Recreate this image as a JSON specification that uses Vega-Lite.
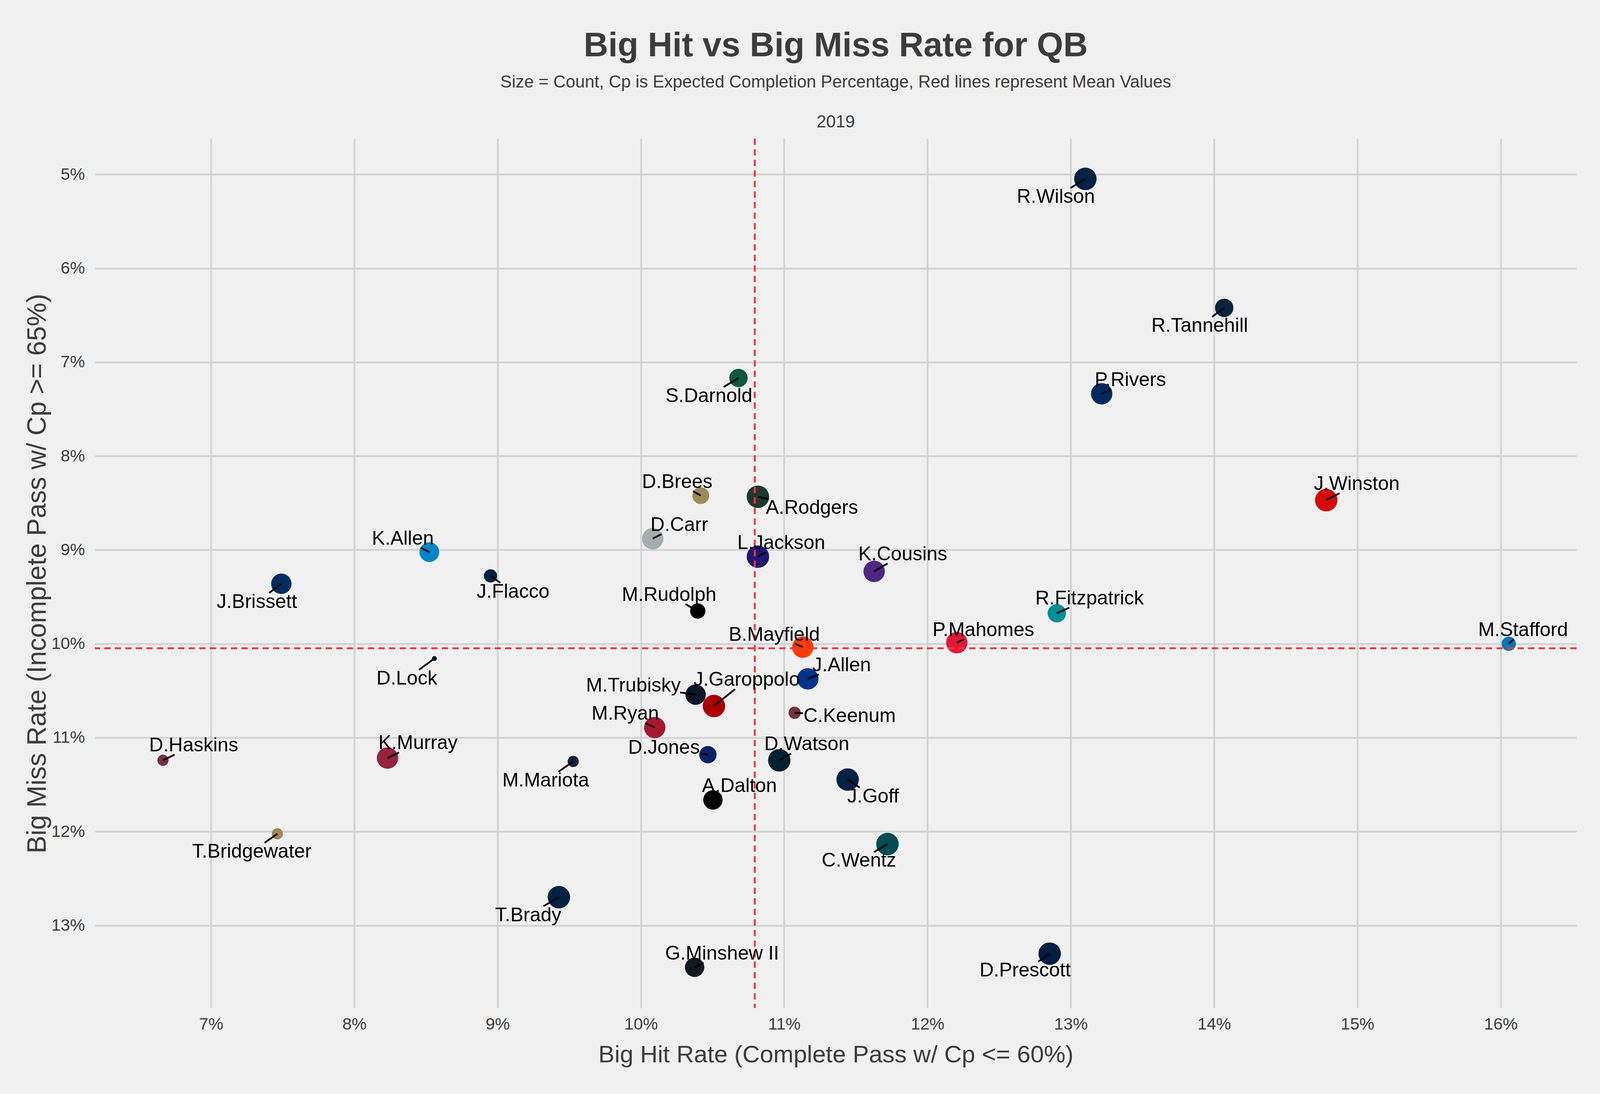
{
  "$schema": "https://vega.github.io/schema/vega-lite/v6.json",
  "width": 3793,
  "height": 2225,
  "autosize": "none",
  "padding": {"left": 243, "top": 355, "right": 60, "bottom": 220},
  "background": "#F0F0F0",
  "config": {
    "font": "Liberation Sans",
    "view": {"stroke": null}
  },
  "title": {
    "text": "Big Hit vs Big Miss Rate for QB",
    "subtitle": ["Size = Count, Cp is Expected Completion Percentage, Red lines represent Mean Values", "2019"],
    "anchor": "middle",
    "font": "Liberation Sans",
    "fontSize": 87,
    "fontWeight": "bold",
    "color": "#3C3C3C",
    "subtitleFont": "Liberation Sans",
    "subtitleFontSize": 44,
    "subtitleColor": "#3C3C3C",
    "subtitleLineHeight": 102,
    "subtitlePadding": 27,
    "offset": 17
  },
  "data": {
    "values": [
      {"player": "R.Wilson", "team": "SEA", "hit": 13.102, "miss": 5.048, "count": 121, "lx": 12.896, "ly": 5.241, "sx": 12.999, "sy": 5.145},
      {"player": "R.Tannehill", "team": "TEN", "hit": 14.071, "miss": 6.422, "count": 81, "lx": 13.900, "ly": 6.614, "sx": 13.986, "sy": 6.518},
      {"player": "P.Rivers", "team": "LAC", "hit": 13.216, "miss": 7.337, "count": 110, "lx": 13.416, "ly": 7.193, "sx": 13.282, "sy": 7.289},
      {"player": "J.Winston", "team": "TB", "hit": 14.783, "miss": 8.470, "count": 121, "lx": 14.996, "ly": 8.301, "sx": 14.875, "sy": 8.397},
      {"player": "S.Darnold", "team": "NYJ", "hit": 10.681, "miss": 7.169, "count": 81, "lx": 10.475, "ly": 7.361, "sx": 10.578, "sy": 7.265},
      {"player": "D.Brees", "team": "NO", "hit": 10.418, "miss": 8.422, "count": 68, "lx": 10.254, "ly": 8.277, "sx": 10.364, "sy": 8.374},
      {"player": "A.Rodgers", "team": "GB", "hit": 10.817, "miss": 8.434, "count": 121, "lx": 11.194, "ly": 8.554, "sx": 10.892, "sy": 8.458},
      {"player": "D.Carr", "team": "OAK", "hit": 10.083, "miss": 8.880, "count": 110, "lx": 10.268, "ly": 8.735, "sx": 10.144, "sy": 8.832},
      {"player": "L.Jackson", "team": "BAL", "hit": 10.817, "miss": 9.072, "count": 121, "lx": 10.980, "ly": 8.928, "sx": 10.871, "sy": 9.024},
      {"player": "K.Cousins", "team": "MIN", "hit": 11.628, "miss": 9.229, "count": 110, "lx": 11.828, "ly": 9.048, "sx": 11.722, "sy": 9.144},
      {"player": "K.Allen", "team": "CAR", "hit": 8.524, "miss": 9.024, "count": 94, "lx": 8.339, "ly": 8.880, "sx": 8.463, "sy": 8.976},
      {"player": "J.Flacco", "team": "DEN", "hit": 8.951, "miss": 9.277, "count": 42, "lx": 9.108, "ly": 9.446, "sx": 9.019, "sy": 9.350},
      {"player": "J.Brissett", "team": "IND", "hit": 7.491, "miss": 9.361, "count": 100, "lx": 7.320, "ly": 9.554, "sx": 7.406, "sy": 9.458},
      {"player": "M.Rudolph", "team": "PIT", "hit": 10.397, "miss": 9.651, "count": 56, "lx": 10.197, "ly": 9.482, "sx": 10.311, "sy": 9.578},
      {"player": "R.Fitzpatrick", "team": "MIA", "hit": 12.903, "miss": 9.675, "count": 81, "lx": 13.131, "ly": 9.518, "sx": 12.990, "sy": 9.615},
      {"player": "M.Stafford", "team": "DET", "hit": 16.057, "miss": 10.000, "count": 49, "lx": 16.157, "ly": 9.855, "sx": 16.090, "sy": 9.952},
      {"player": "B.Mayfield", "team": "CLE", "hit": 11.130, "miss": 10.036, "count": 110, "lx": 10.931, "ly": 9.904, "sx": 11.076, "sy": 10.000},
      {"player": "P.Mahomes", "team": "KC", "hit": 12.205, "miss": 9.988, "count": 110, "lx": 12.390, "ly": 9.855, "sx": 12.255, "sy": 9.952},
      {"player": "J.Allen", "team": "BUF", "hit": 11.165, "miss": 10.373, "count": 110, "lx": 11.401, "ly": 10.229, "sx": 11.243, "sy": 10.325},
      {"player": "D.Lock", "team": "DEN", "hit": 8.559, "miss": 10.157, "count": 6, "lx": 8.367, "ly": 10.373, "sx": 8.451, "sy": 10.278},
      {"player": "M.Trubisky", "team": "CHI", "hit": 10.382, "miss": 10.542, "count": 100, "lx": 9.948, "ly": 10.446, "sx": 10.274, "sy": 10.518},
      {"player": "J.Garoppolo", "team": "SF", "hit": 10.510, "miss": 10.663, "count": 121, "lx": 10.738, "ly": 10.386, "sx": 10.658, "sy": 10.483},
      {"player": "C.Keenum", "team": "WAS", "hit": 11.073, "miss": 10.735, "count": 36, "lx": 11.457, "ly": 10.771, "sx": 11.131, "sy": 10.740},
      {"player": "M.Ryan", "team": "ATL", "hit": 10.097, "miss": 10.892, "count": 110, "lx": 9.891, "ly": 10.747, "sx": 10.029, "sy": 10.844},
      {"player": "D.Haskins", "team": "WAS", "hit": 6.665, "miss": 11.241, "count": 30, "lx": 6.879, "ly": 11.084, "sx": 6.746, "sy": 11.181},
      {"player": "K.Murray", "team": "ARI", "hit": 8.232, "miss": 11.217, "count": 110, "lx": 8.445, "ly": 11.060, "sx": 8.313, "sy": 11.157},
      {"player": "M.Mariota", "team": "TEN", "hit": 9.528, "miss": 11.253, "count": 30, "lx": 9.336, "ly": 11.458, "sx": 9.426, "sy": 11.362},
      {"player": "D.Jones", "team": "NYG", "hit": 10.468, "miss": 11.181, "count": 72, "lx": 10.161, "ly": 11.108, "sx": 10.419, "sy": 11.169},
      {"player": "D.Watson", "team": "HOU", "hit": 10.966, "miss": 11.241, "count": 121, "lx": 11.158, "ly": 11.072, "sx": 11.049, "sy": 11.168},
      {"player": "J.Goff", "team": "LA", "hit": 11.443, "miss": 11.446, "count": 121, "lx": 11.621, "ly": 11.627, "sx": 11.527, "sy": 11.531},
      {"player": "A.Dalton", "team": "CIN", "hit": 10.503, "miss": 11.663, "count": 90, "lx": 10.688, "ly": 11.518, "sx": 10.564, "sy": 11.615},
      {"player": "T.Bridgewater", "team": "NO", "hit": 7.463, "miss": 12.024, "count": 30, "lx": 7.285, "ly": 12.217, "sx": 7.374, "sy": 12.120},
      {"player": "C.Wentz", "team": "PHI", "hit": 11.721, "miss": 12.133, "count": 121, "lx": 11.522, "ly": 12.313, "sx": 11.627, "sy": 12.218},
      {"player": "T.Brady", "team": "NE", "hit": 9.428, "miss": 12.699, "count": 121, "lx": 9.214, "ly": 12.892, "sx": 9.321, "sy": 12.795},
      {"player": "G.Minshew II", "team": "JAX", "hit": 10.375, "miss": 13.446, "count": 90, "lx": 10.567, "ly": 13.301, "sx": 10.438, "sy": 13.398},
      {"player": "D.Prescott", "team": "DAL", "hit": 12.853, "miss": 13.301, "count": 121, "lx": 12.682, "ly": 13.482, "sx": 12.773, "sy": 13.386}
    ]
  },
  "layer": [
    {
      "mark": {"type": "circle", "opacity": 1, "stroke": null},
      "encoding": {
        "x": {
          "field": "hit",
          "type": "quantitative",
          "scale": {"domain": [6.19, 16.53], "nice": false, "zero": false},
          "axis": {
            "title": "Big Hit Rate (Complete Pass w/ Cp <= 60%)",
            "values": [7, 8, 9, 10, 11, 12, 13, 14, 15, 16],
            "labelExpr": "datum.value + '%'",
            "grid": true,
            "gridColor": "#D2D2D2",
            "gridWidth": 4.5,
            "domain": false,
            "ticks": false,
            "labelFont": "Liberation Sans",
            "labelFontSize": 43,
            "labelColor": "#3C3C3C",
            "labelPadding": 20,
            "titleFont": "Liberation Sans",
            "titleFontSize": 62,
            "titleFontWeight": "normal",
            "titleColor": "#3C3C3C",
            "titlePadding": 26
          }
        },
        "y": {
          "field": "miss",
          "type": "quantitative",
          "scale": {"domain": [4.62, 13.88], "nice": false, "zero": false, "reverse": true},
          "axis": {
            "title": "Big Miss Rate (Incomplete Pass w/ Cp >= 65%)",
            "values": [5, 6, 7, 8, 9, 10, 11, 12, 13],
            "labelExpr": "datum.value + '%'",
            "grid": true,
            "gridColor": "#D2D2D2",
            "gridWidth": 4.5,
            "domain": false,
            "ticks": false,
            "labelFont": "Liberation Sans",
            "labelFontSize": 43,
            "labelColor": "#3C3C3C",
            "labelPadding": 26,
            "titleFont": "Liberation Sans",
            "titleFontSize": 68,
            "titleFontWeight": "normal",
            "titleColor": "#3C3C3C",
            "titlePadding": 0
          }
        },
        "size": {
          "field": "count",
          "type": "quantitative",
          "scale": {"domain": [0, 121], "range": [0, 3300]},
          "legend": null
        },
        "color": {
          "field": "team",
          "type": "nominal",
          "legend": null,
          "scale": {
            "domain": ["SEA", "TEN", "LAC", "TB", "NYJ", "NO", "GB", "OAK", "BAL", "MIN", "CAR", "DEN", "IND", "PIT", "MIA", "DET", "CLE", "KC", "BUF", "CHI", "SF", "WAS", "ATL", "ARI", "NYG", "HOU", "LA", "CIN", "JAX", "PHI", "NE", "DAL"],
            "range": ["#002244", "#0C2340", "#002A5E", "#D50A0A", "#125740", "#9F8958", "#203731", "#A5ACAF", "#241773", "#4F2683", "#0085CA", "#002244", "#002C5F", "#000000", "#008E97", "#0076B6", "#FF3C00", "#E31837", "#00338D", "#0B162A", "#AA0000", "#773141", "#A71930", "#97233F", "#0B2265", "#03202F", "#002244", "#000000", "#101820", "#004C54", "#002244", "#041E42"]
          }
        }
      }
    },
    {
      "mark": {"type": "rule", "color": "#000000", "strokeWidth": 4.5},
      "encoding": {
        "x": {"field": "hit", "type": "quantitative"},
        "y": {"field": "miss", "type": "quantitative"},
        "x2": {"field": "sx"},
        "y2": {"field": "sy"}
      }
    },
    {
      "data": {"values": [{"mean_hit": 10.795, "mean_miss": 10.048}]},
      "mark": {"type": "rule", "color": "#F23A3A", "strokeWidth": 5, "strokeDash": [16, 11]},
      "encoding": {
        "x": {"field": "mean_hit", "type": "quantitative"}
      }
    },
    {
      "data": {"values": [{"mean_hit": 10.795, "mean_miss": 10.048}]},
      "mark": {"type": "rule", "color": "#F23A3A", "strokeWidth": 5, "strokeDash": [16, 11]},
      "encoding": {
        "y": {"field": "mean_miss", "type": "quantitative"}
      }
    },
    {
      "mark": {"type": "text", "font": "Liberation Sans", "fontSize": 50, "color": "#000000", "align": "center", "baseline": "middle"},
      "encoding": {
        "x": {"field": "lx", "type": "quantitative"},
        "y": {"field": "ly", "type": "quantitative"},
        "text": {"field": "player"}
      }
    }
  ]
}
